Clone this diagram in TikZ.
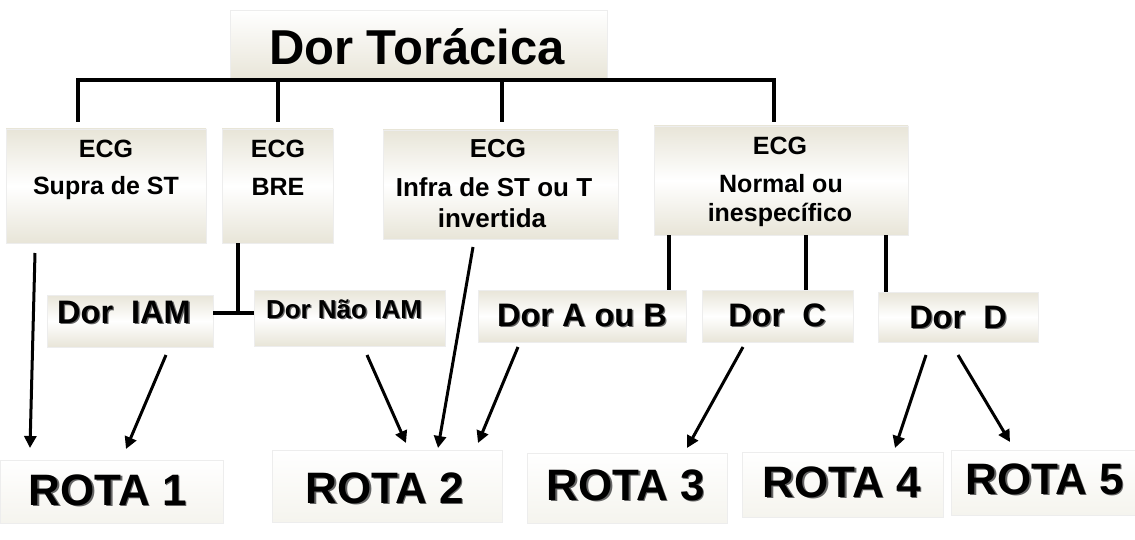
\documentclass[tikz,border=0pt]{standalone}
\usepackage{fontspec}
\setmainfont{Liberation Sans}
\usetikzlibrary{arrows.meta}
\definecolor{beige}{RGB}{232,229,216}
\definecolor{beigelt}{RGB}{245,244,238}
\newcommand\shtext[1]{\leavevmode\rlap{\kern1.3pt\raisebox{-1.5pt}{\color{black!60}#1}}#1}
\begin{document}
\begin{tikzpicture}[x=1pt,y=-1pt,
  gbox/.style={draw=black!7, line width=0.6pt, inner sep=0pt, top color=beige, bottom color=beige, middle color=white},
  tbox/.style={draw=black!7, line width=0.6pt, inner sep=0pt, top color=white, bottom color=beige},
  rbox/.style={draw=black!7, line width=0.6pt, inner sep=0pt, top color=white, bottom color=beigelt},
  tline/.style={line width=4pt, line join=miter},
  arr/.style={line width=3pt, -{Triangle[length=12pt,width=12pt]}},
  ttl/.style={anchor=base, inner sep=0pt, font=\fontsize{49}{55}\selectfont\bfseries},
  ecg/.style={anchor=base, inner sep=0pt, font=\fontsize{25}{30}\selectfont\bfseries},
  ecgb/.style={anchor=base, inner sep=0pt, font=\fontsize{26}{30}\selectfont\bfseries},
  dor/.style={anchor=base, inner sep=0pt, font=\fontsize{32.5}{38}\selectfont\bfseries},
  dorn/.style={anchor=base, inner sep=0pt, font=\fontsize{26}{30}\selectfont\bfseries},
  rota/.style={anchor=base, inner sep=0pt, font=\fontsize{44}{50}\selectfont\bfseries},
]
\useasboundingbox (0,0) rectangle (1135,540);
\fill[white] (0,0) rectangle (1135,540);

% boxes
\node[tbox, minimum width=377, minimum height=70] (title) at (418.5,45) {};
\node[gbox, minimum width=200, minimum height=114] (b1) at (106,186) {};
\node[gbox, minimum width=111, minimum height=114] (b2) at (277.5,186) {};
\node[gbox, minimum width=235, minimum height=109] (b3) at (500.5,184.5) {};
\node[gbox, minimum width=254, minimum height=109] (b4) at (781,180.5) {};
\node[gbox, minimum width=166, minimum height=52] (dIAM) at (130,321) {};
\node[gbox, minimum width=191, minimum height=56] (dNIAM) at (349.5,318) {};
\node[gbox, minimum width=208, minimum height=52] (dAB) at (582,316) {};
\node[gbox, minimum width=151, minimum height=52] (dC) at (777.5,316) {};
\node[gbox, minimum width=160, minimum height=50] (dD) at (958,317) {};
\node[rbox, minimum width=223, minimum height=63] (r1) at (111.5,491.5) {};
\node[rbox, minimum width=230, minimum height=72] (r2) at (387,486) {};
\node[rbox, minimum width=200, minimum height=70] (r3) at (627,488) {};
\node[rbox, minimum width=201, minimum height=65] (r4) at (842.5,484.5) {};
\node[rbox, minimum width=184, minimum height=65] (r5) at (1043,482.5) {};

% texts
\node[ttl] (titleT) at (417,65) {Dor Torácica};
\node[ecg] (b1a) at (106,158) {ECG};
\node[ecg] (b1b) at (106,195) {Supra de ST};
\node[ecg] (b2a) at (278,158) {ECG};
\node[ecg] (b2b) at (278,196) {BRE};
\node[ecgb] (b3a) at (498,158) {ECG};
\node[ecgb] (b3b) at (494,197) {Infra de ST ou T};
\node[ecgb] (b3c) at (492,227) {invertida};
\node[ecg] (b4a) at (780,155) {ECG};
\node[ecg] (b4b) at (781,193) {Normal ou};
\node[ecg] (b4c) at (780,222) {inespecífico};
\node[dor] (dIAMt) at (124,323) {\shtext{Dor\ \ IAM}};
\node[dorn] (dNIAMt) at (344,318) {\shtext{Dor Não IAM}};
\node[dor] (dABt) at (582,326) {\shtext{Dor A ou B}};
\node[dor] (dCt) at (777,326) {\shtext{Dor\ \ C}};
\node[dor] (dDt) at (958,328) {\shtext{Dor\ \ D}};
\node[rota] (r1t) at (108,505) {\shtext{ROTA 1}};
\node[rota] (r2t) at (385,503) {\shtext{ROTA 2}};
\node[rota] (r3t) at (626,500) {\shtext{ROTA 3}};
\node[rota] (r4t) at (842,497) {\shtext{ROTA 4}};
\node[rota] (r5t) at (1045,494) {\shtext{ROTA 5}};

% tree coordinates
\coordinate (bar) at (title.south);
\coordinate (t1) at (78,122);
\coordinate (t2) at (278,122);
\coordinate (t3) at (502,122);
\coordinate (t4) at (774,122);
\draw[tline] (t1) -- (t1 |- bar) -- (t4 |- bar) -- (t4);
\draw[tline] (t2 |- bar) -- (t2);
\draw[tline] (t3 |- bar) -- (t3);

% ECG normal -> Dor A/B, C, D
\coordinate (n1) at (669,0);
\coordinate (n2) at (806,0);
\coordinate (n3) at (886,0);
\draw[tline] (n1 |- b4.south) -- (n1 |- dAB.north);
\draw[tline] (n2 |- b4.south) -- (n2 |- dC.north);
\draw[tline] (n3 |- b4.south) -- (n3 |- dD.north);

% BRE -> Dor IAM / Dor Nao IAM
\coordinate (j) at (238,313);
\draw[tline] (j |- b2.south) -- (j);
\draw[tline] (dIAM.east |- j) -- (dNIAM.west |- j);

% arrows
\coordinate (a1s) at (35,253);  \coordinate (a1e) at (30,448);
\coordinate (a2s) at (166,355); \coordinate (a2e) at (126,449);
\coordinate (a3s) at (367,355); \coordinate (a3e) at (406,443);
\coordinate (a4s) at (473,247); \coordinate (a4e) at (438,448);
\coordinate (a5s) at (518,347); \coordinate (a5e) at (478,443);
\coordinate (a6s) at (743,347); \coordinate (a6e) at (687,448);
\coordinate (a7s) at (926,355); \coordinate (a7e) at (895,448);
\coordinate (a8s) at (958,355); \coordinate (a8e) at (1010,442);
\draw[arr] (a1s) -- (a1e);
\draw[arr] (a2s) -- (a2e);
\draw[arr] (a3s) -- (a3e);
\draw[arr] (a4s) -- (a4e);
\draw[arr] (a5s) -- (a5e);
\draw[arr] (a6s) -- (a6e);
\draw[arr] (a7s) -- (a7e);
\draw[arr] (a8s) -- (a8e);
\end{tikzpicture}
\end{document}
